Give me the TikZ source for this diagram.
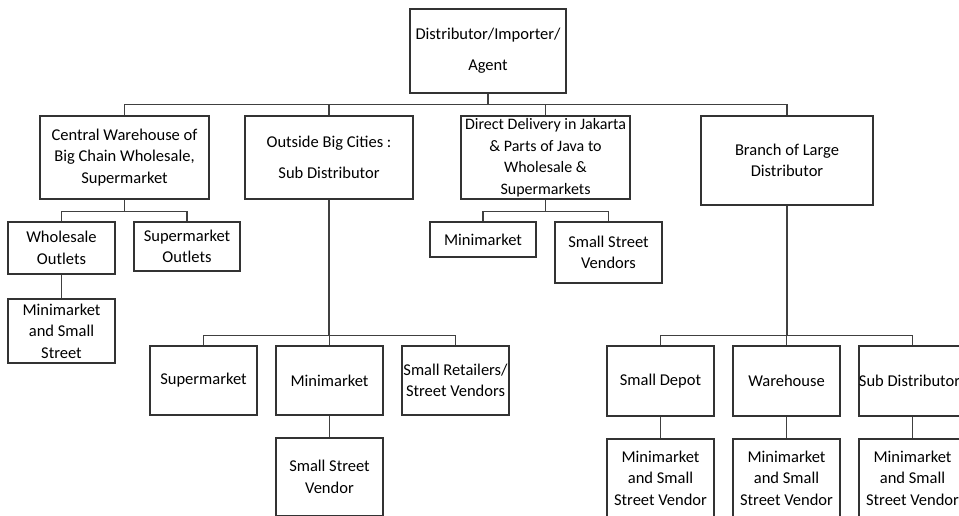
\documentclass[tikz,border=0pt]{standalone}
\usepackage{fontspec}
\setmainfont{Carlito}
\usetikzlibrary{positioning}

\begin{document}
\begin{tikzpicture}[x=1pt,y=-1pt,
  box/.style={draw=black!80, line width=1.2pt, rectangle, align=center, inner sep=0pt,
    font=\fontsize{16.5}{21.5}\selectfont},
  wide/.style={font=\fontsize{16.5}{31}\selectfont},
  link/.style={draw=black!75, line width=1.2pt}]
  \useasboundingbox (0,0) rectangle (959,515);
  % top level
  \node[box,wide,minimum width=156pt,minimum height=84pt] (dist) at (488,51) {Distributor/Importer/\\Agent};
  % second level
  \node[box,minimum width=169pt,minimum height=83pt] (cwh) at (124.5,157.5) {Central Warehouse of\\Big Chain Wholesale,\\Supermarket};
  \node[box,wide,minimum width=168pt,minimum height=83pt] (obc) at (329,157.5) {Outside Big Cities :\\Sub Distributor};
  \node[box,minimum width=169pt,minimum height=83pt,font=\fontsize{16}{21.5}\selectfont] (ddj) at (545.5,157.5) {Direct Delivery in Jakarta\\\& Parts of Java to\\Wholesale \&\\Supermarkets};
  \node[box,minimum width=172pt,minimum height=89pt] (bld) at (787,160.5) {Branch of Large\\Distributor};
  % under central warehouse
  \node[box,minimum width=107pt,minimum height=52pt] (wso) at (61.5,248) {Wholesale\\Outlets};
  \node[box,minimum width=106pt,minimum height=49pt] (smo) at (187,246.5) {Supermarket\\Outlets};
  \node[box,minimum width=107pt,minimum height=64pt] (mss) at (61.5,331) {Minimarket\\and Small\\Street};
  % under sub distributor
  \node[box,minimum width=107pt,minimum height=69pt] (sup) at (203.5,380.5) {Supermarket};
  \node[box,minimum width=107pt,minimum height=69pt] (mini) at (329.5,380.5) {Minimarket};
  \node[box,minimum width=107pt,minimum height=69pt] (srv) at (455.5,380.5) {Small Retailers/\\Street Vendors};
  \node[box,minimum width=107pt,minimum height=78pt] (ssv) at (329.5,477) {Small Street\\Vendor};
  % under direct delivery
  \node[box,minimum width=106pt,minimum height=35pt] (mm) at (483,239.5) {Minimarket};
  \node[box,minimum width=107pt,minimum height=61pt] (ssvs) at (608.5,252.5) {Small Street\\Vendors};
  % under branch
  \node[box,minimum width=107pt,minimum height=70pt] (dep) at (660.5,381) {Small Depot};
  \node[box,minimum width=107pt,minimum height=70pt] (wh) at (786.5,381) {Warehouse};
  \node[box,minimum width=107pt,minimum height=70pt] (sdi) at (912.5,381) {Sub Distributor\hspace*{6pt}};
  \node[box,minimum width=107pt,minimum height=78pt] (dep1) at (660.5,478) {Minimarket\\and Small\\Street Vendor};
  \node[box,minimum width=107pt,minimum height=78pt] (wh1) at (786.5,478) {Minimarket\\and Small\\Street Vendor};
  \node[box,minimum width=107pt,minimum height=78pt] (sdi1) at (912.5,478) {Minimarket\\and Small\\Street Vendor};
  % connectors
  \foreach \n in {cwh,obc,ddj,bld}
    \draw[link] (dist.south) -- ++(0,11) -| (\n.north);
  \foreach \n in {wso,smo}
    \draw[link] (cwh.south) -- ++(0,12) -| (\n.north);
  \foreach \n in {sup,mini,srv}
    \draw[link] (obc.south) -- ++(0,136) -| (\n.north);
  \foreach \n in {mm,ssvs}
    \draw[link] (ddj.south) -- ++(0,12) -| (\n.north);
  \foreach \n in {dep,wh,sdi}
    \draw[link] (bld.south) -- ++(0,130) -| (\n.north);
  \draw[link] (wso) -- (mss);
  \draw[link] (mini) -- (ssv);
  \draw[link] (dep) -- (dep1);
  \draw[link] (wh) -- (wh1);
  \draw[link] (sdi) -- (sdi1);
\end{tikzpicture}
\end{document}
